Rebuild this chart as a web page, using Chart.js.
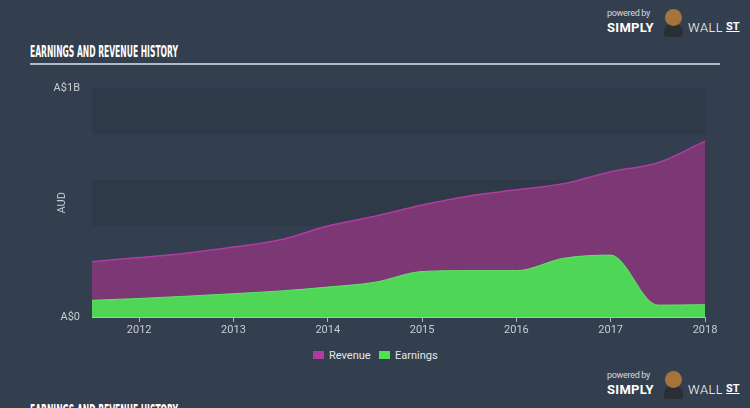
<!DOCTYPE html>
<html><head><meta charset="utf-8">
<script src="https://cdn.jsdelivr.net/npm/chart.js@4.4.1/dist/chart.umd.min.js"></script>
<style>
html,body{margin:0;padding:0;width:750px;height:408px;overflow:hidden;background:#333f4f;font-family:Roboto,"Open Sans",sans-serif;}
#wrap{position:relative;width:750px;height:408px;overflow:hidden;}
.title{position:absolute;left:30px;color:#fff;font:bold 16px "DejaVu Sans Condensed","DejaVu Sans",sans-serif;transform-origin:0 0;white-space:nowrap;line-height:16px;}
.rule{position:absolute;left:30px;top:63px;width:690px;height:2px;background:#b3b9c0}
#c{position:absolute;left:0;top:70px;}
.lg{position:absolute;top:350px;font-size:11px;color:#e3e6ea;line-height:12px;white-space:nowrap}
.lg i{display:inline-block;width:11px;height:8px;margin-right:5px;vertical-align:0px}
.logo{position:absolute;left:607px;width:140px;height:32px;color:#fff}
.logo .pb{position:absolute;left:0;top:0;font-size:9px;color:#d6d9dd;letter-spacing:-0.3px}
.logo .s{position:absolute;left:0;top:12px;font:bold 13px Roboto,sans-serif;letter-spacing:0.3px}
.logo .w{position:absolute;left:81px;top:12px;font:300 13px Roboto,sans-serif;letter-spacing:0.5px}
.logo .st{position:absolute;left:119px;top:12px;font:bold 11px Roboto,sans-serif;text-decoration:underline}
.logo .bull{position:absolute;left:58px;top:1px;width:17px;height:17px;border-radius:50%;background:#a5743a}
.logo .body{position:absolute;left:57px;top:16px;width:19px;height:13px;border-radius:8px 8px 3px 3px;background:#2a2f36}
</style></head>
<body><div id="wrap">
<div class="title" id="t1" style="top:44px">EARNINGS AND REVENUE HISTORY</div>
<div class="rule"></div>
<canvas id="c" width="750" height="277"></canvas>
<div class="lg" style="left:313px"><i style="background:#ac3c9e"></i>Revenue</div>
<div class="lg" style="left:379px"><i style="background:#50e052"></i>Earnings</div>
<div class="logo" style="top:8px"><span class="pb">powered by</span><span class="s">SIMPLY</span><span class="body"></span><span class="bull"></span><span class="w">WALL</span><span class="st">ST</span></div>
<div class="logo" style="top:370px"><span class="pb">powered by</span><span class="s">SIMPLY</span><span class="body"></span><span class="bull"></span><span class="w">WALL</span><span class="st">ST</span></div>
<div class="title" id="t2" style="top:403px">EARNINGS AND REVENUE HISTORY</div>
</div>
<script>
// Data (AUD millions)
const years    = [2011.5, 2012, 2012.5, 2013, 2013.5, 2014, 2014.5, 2015, 2015.5, 2016, 2016.5, 2017, 2017.5, 2018];
const revenue  = [242, 260, 279, 306, 338, 398, 441, 490, 530, 557, 584, 636, 675, 770];
const earnings = [73, 81, 91, 102, 114, 131, 152, 199, 203, 203, 257, 271, 52, 54];
const xTicks   = [2012, 2013, 2014, 2015, 2016, 2017, 2018];
const yTicks   = [0, 1000];
const bandRanges = [[800, 1000], [400, 600], [0, 200]];

['t1','t2'].forEach(id=>{
  const el=document.getElementById(id);
  const w=el.getBoundingClientRect().width;
  el.style.transform='scaleX('+(148/w)+')';
});

const bandPlugin = {
  id:'bands',
  beforeDatasetsDraw(chart){
    const {ctx, chartArea:{left,right}, scales:{y}} = chart;
    ctx.save();
    ctx.fillStyle='#2e3a48';
    bandRanges.forEach(([a,b])=>{
      const t=y.getPixelForValue(b), bt=y.getPixelForValue(a);
      ctx.fillRect(left,t,right-left,bt-t);
    });
    ctx.restore();
  }
};

const tickFont = {family:'Roboto, "Open Sans", sans-serif', size:11};
new Chart(document.getElementById('c'), {
  type:'line',
  data:{
    datasets:[
      {label:'Revenue', data:years.map((x,i)=>({x, y:revenue[i]})), fill:'origin',
       backgroundColor:'#7b3874', borderColor:'#b03ca3', borderWidth:1.5, pointRadius:0,
       cubicInterpolationMode:'monotone', order:2},
      {label:'Earnings', data:years.map((x,i)=>({x, y:earnings[i]})), fill:'origin',
       backgroundColor:'#50d656', borderColor:'#62e46a', borderWidth:1, pointRadius:0,
       cubicInterpolationMode:'monotone', order:1}
    ]
  },
  options:{
    responsive:false, animation:false, devicePixelRatio:1,
    layout:{padding:{left:0,right:45,top:16,bottom:0}},
    plugins:{legend:{display:false}, tooltip:{enabled:false}},
    scales:{
      x:{type:'linear', min:2011.5, max:2018,
        afterBuildTicks:s=>{s.ticks=xTicks.map(v=>({value:v}));},
        afterFit:s=>{s.height=30;},
        grid:{drawOnChartArea:false, drawTicks:true, tickLength:5, color:'#aab2bb'},
        border:{display:true, color:'#b7bdc4', width:1},
        ticks:{color:'#c9cdd2', font:tickFont, padding:2, maxRotation:0, callback:v=>String(v)}
      },
      y:{min:0, max:1000,
        afterBuildTicks:s=>{s.ticks=yTicks.map(v=>({value:v}));},
        afterFit:s=>{s.width=92;},
        grid:{display:false, drawTicks:false},
        border:{display:false},
        ticks:{color:'#c9cdd2', font:tickFont, padding:12, callback:v=> v>=1000 ? 'A$'+(v/1000)+'B' : 'A$'+v},
        title:{display:true, text:'AUD', color:'#c9cdd2', font:tickFont, padding:{top:56,bottom:0}}
      }
    }
  },
  plugins:[bandPlugin]
});
</script>
</body></html>
